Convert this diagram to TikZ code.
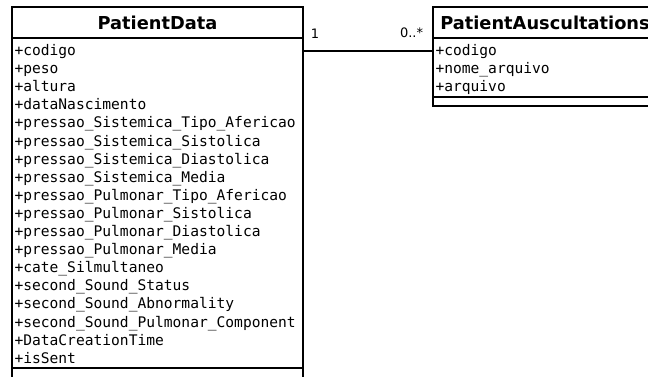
\documentclass[tikz,border=0pt]{standalone}
\usepackage{fontspec}
\setmainfont{DejaVu Sans}
\setmonofont{DejaVu Sans Mono}
\usetikzlibrary{positioning}

\newcommand{\firstline}{\rule{0pt}{15.5pt}}
\newcommand{\lastline}{\rule[-2.8pt]{0pt}{2.8pt}}

\tikzset{
  umltitle/.style={draw, line width=1.8pt, outer sep=0pt, inner sep=0pt,
    minimum width=#1, minimum height=31pt,
    font=\fontsize{17.8}{21}\selectfont\bfseries},
  umlattrs/.style={draw, line width=1.8pt, outer sep=0pt, inner xsep=2.5pt,
    inner ysep=2pt, text width=#1, align=left,
    font=\ttfamily\fontsize{14.6}{18.1}\selectfont},
  umlops/.style={draw, line width=1.8pt, outer sep=0pt, inner sep=0pt,
    minimum width=#1, minimum height=9pt},
  multiplicity/.style={font=\fontsize{13}{15}\selectfont, inner sep=0pt}
}

\begin{document}
\begin{tikzpicture}
  \path[fill=white, use as bounding box] (0,0) rectangle (648pt,-376pt);
  \clip (0,0) rectangle (648pt,-376pt);

  % class PatientData
  \node[umltitle=291pt, anchor=north west] (pdname) at (12pt,-7pt) {PatientData};
  \node[umlattrs=286pt, below=0pt of pdname] (pdattrs) {\firstline+codigo\\
    +peso\\
    +altura\\
    +dataNascimento\\
    +pressao\_Sistemica\_Tipo\_Afericao\\
    +pressao\_Sistemica\_Sistolica\\
    +pressao\_Sistemica\_Diastolica\\
    +pressao\_Sistemica\_Media\\
    +pressao\_Pulmonar\_Tipo\_Afericao\\
    +pressao\_Pulmonar\_Sistolica\\
    +pressao\_Pulmonar\_Diastolica\\
    +pressao\_Pulmonar\_Media\\
    +cate\_Silmultaneo\\
    +second\_Sound\_Status\\
    +second\_Sound\_Abnormality\\
    +second\_Sound\_Pulmonar\_Component\\
    +DataCreationTime\\
    +isSent\lastline};
  \node[umlops=291pt, minimum height=16pt, below=0pt of pdattrs] (pdops) {};

  % class PatientAuscultations
  \node[umltitle=224pt, anchor=north west] (paname) at (433pt,-7pt) {PatientAuscultations};
  \node[umlattrs=219pt, below=0pt of paname] (paattrs) {\firstline+codigo\\
    +nome\_arquivo\\
    +arquivo\lastline};
  \node[umlops=224pt, below=0pt of paattrs] (paops) {};

  % association
  \draw[line width=1.8pt] ([yshift=-13pt]pdattrs.north east)
    -- node[multiplicity, pos=0, anchor=south west, xshift=7pt, yshift=12pt] {1}
       node[multiplicity, pos=1, anchor=south east, xshift=-9pt, yshift=12pt] {0..*}
    ([yshift=-13pt]paattrs.north west);
\end{tikzpicture}
\end{document}
